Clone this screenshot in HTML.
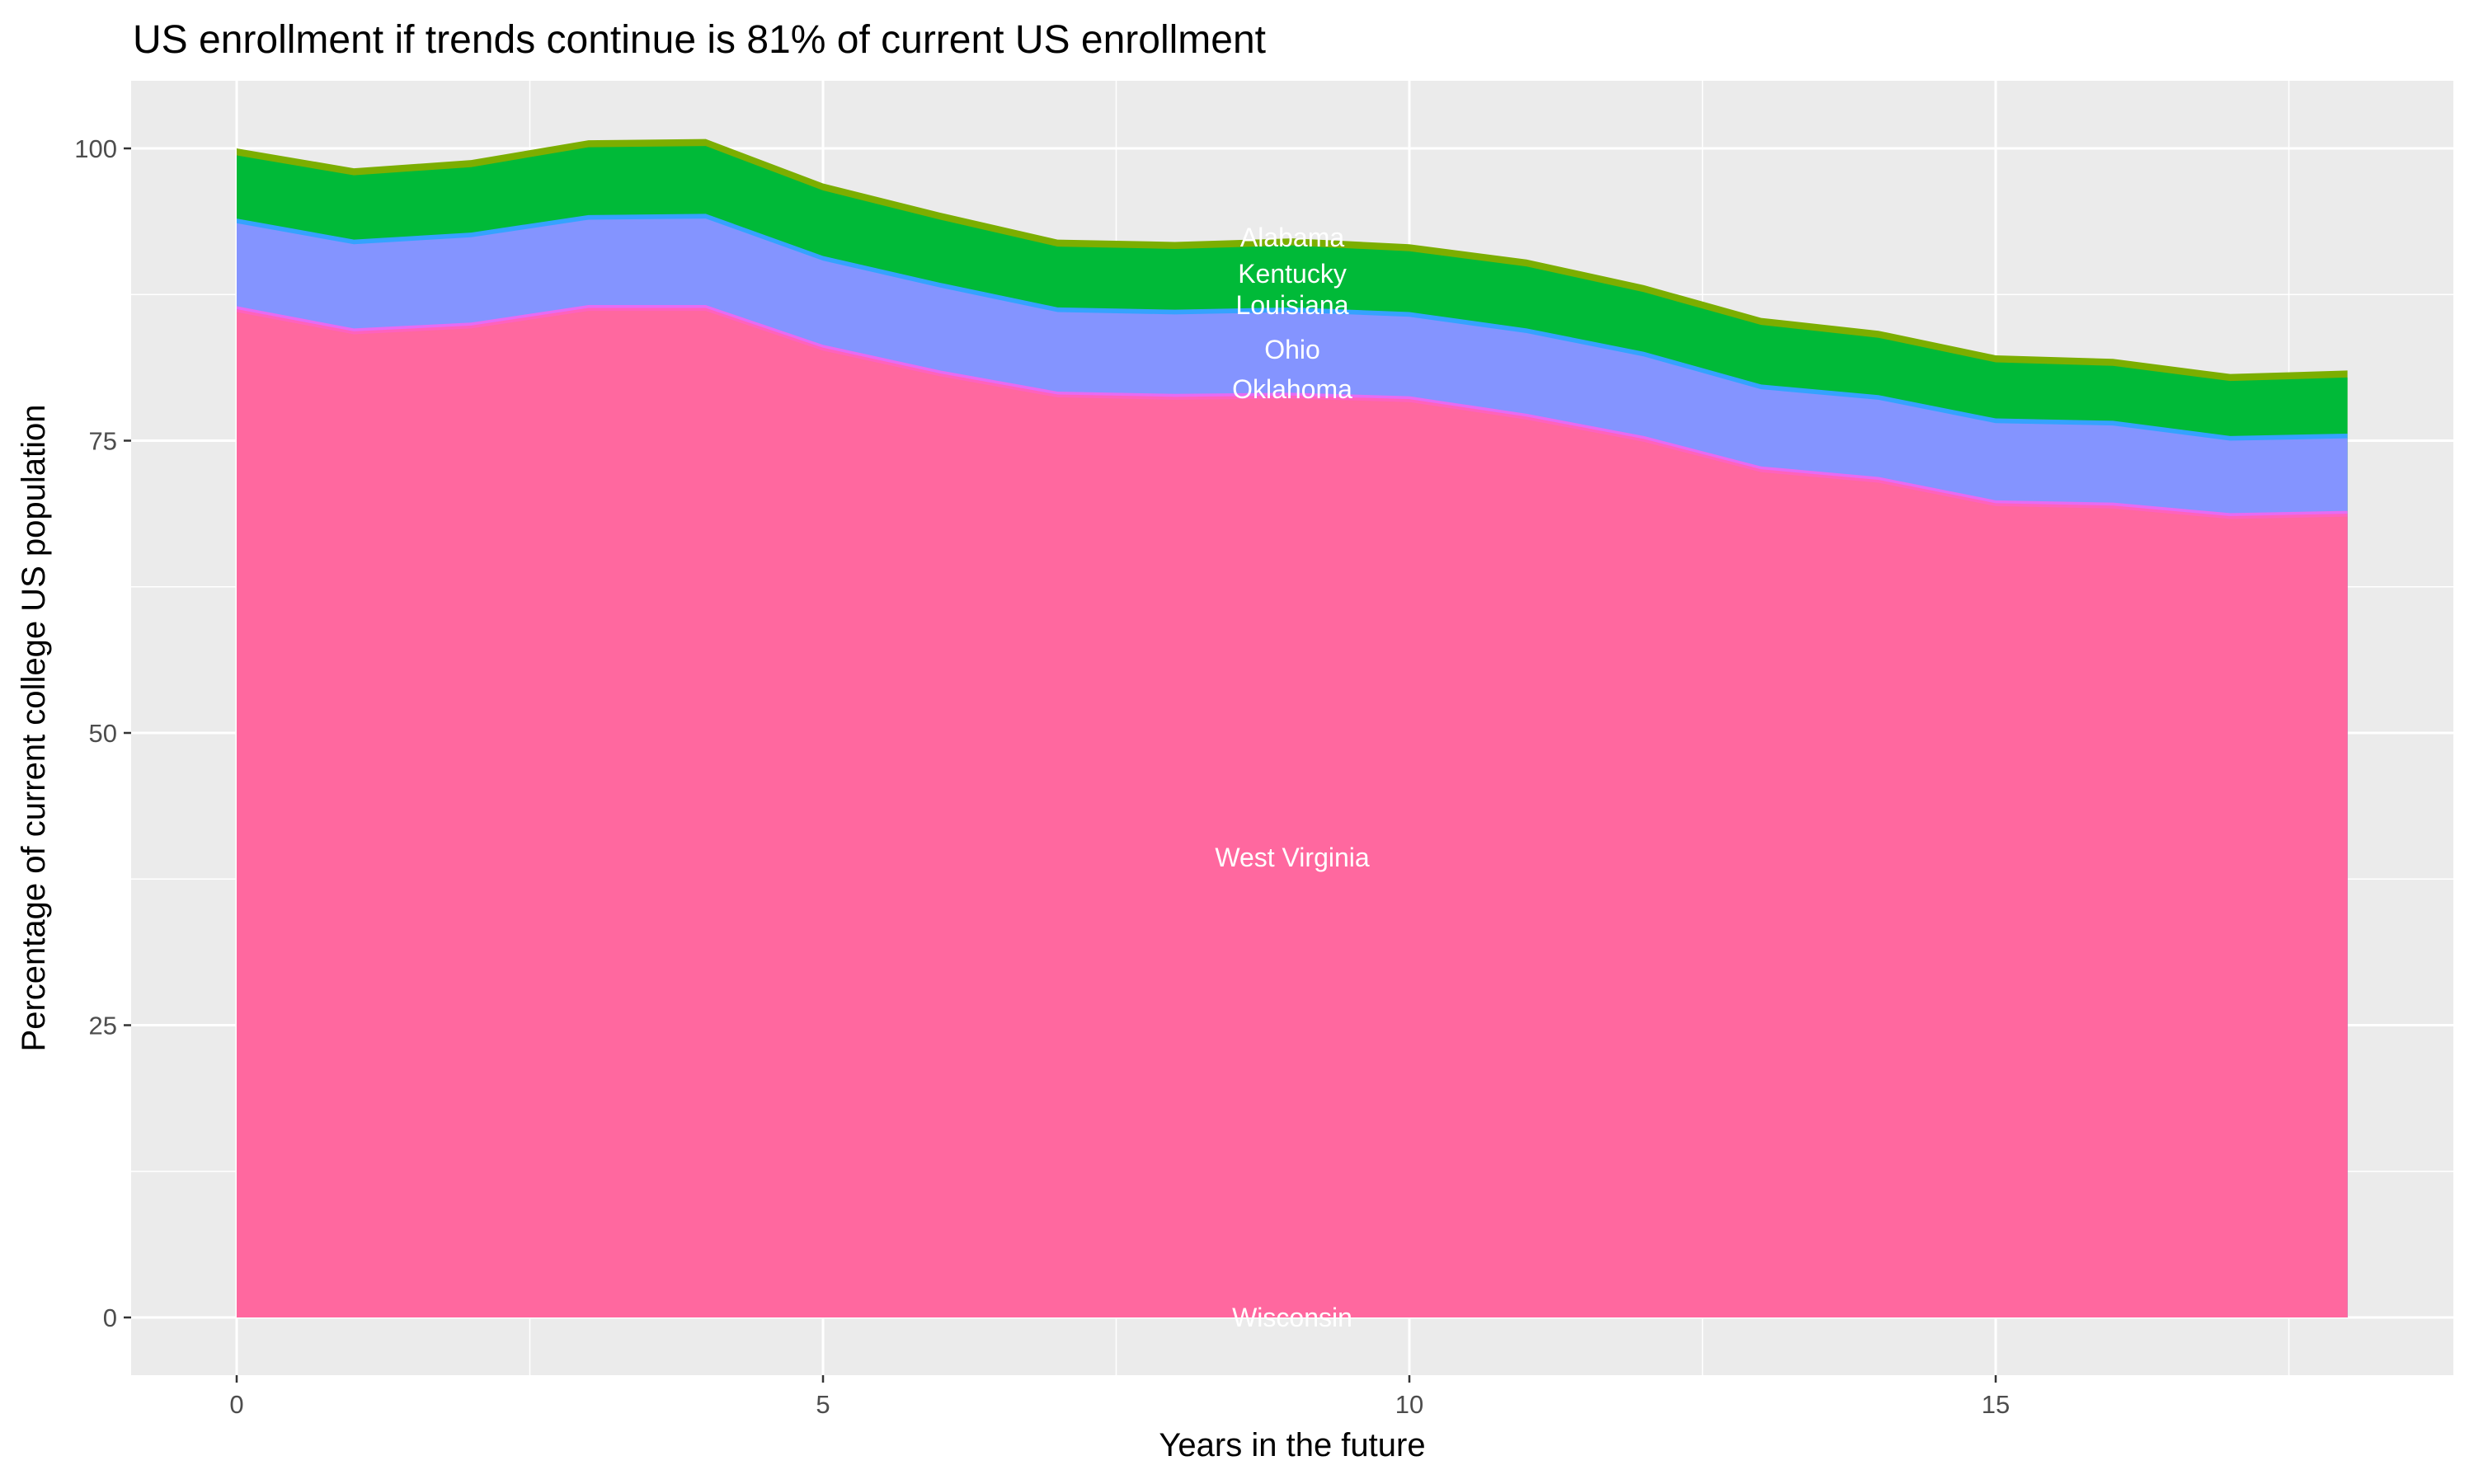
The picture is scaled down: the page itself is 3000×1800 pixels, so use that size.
<!DOCTYPE html>
<html><head><meta charset="utf-8"><style>
body{margin:0;background:#fff}
svg{display:block}
text{font-family:"Liberation Sans",sans-serif}
</style></head><body>
<svg id="s" width="3000" height="1800" xmlns="http://www.w3.org/2000/svg">
<rect x="0" y="0" width="3000" height="1800" fill="#fff"/>
<rect x="159" y="98" width="2816" height="1570" fill="#EBEBEB"/>
<g id="grid"></g>
<g id="areas"></g>
<g id="labels" fill="#fff" font-size="32" text-anchor="middle">
<text x="1567" y="299">Alabama</text>
<text x="1567" y="343">Kentucky</text>
<text x="1567" y="381">Louisiana</text>
<text x="1567" y="435">Ohio</text>
<text x="1567" y="483">Oklahoma</text>
<text x="1567" y="1051">West Virginia</text>
<text x="1567" y="1609">Wisconsin</text>
</g>
<text x="161" y="64" font-size="48" fill="#000">US enrollment if trends continue is 81% of current US enrollment</text>
<g id="ticks" fill="#4D4D4D" font-size="31"></g>
<text x="1567" y="1766" font-size="40" text-anchor="middle" fill="#000">Years in the future</text>
<text transform="translate(54,883) rotate(-90)" font-size="40" text-anchor="middle" fill="#000">Percentage of current college US population</text>
</svg>
<script>
const NS="http://www.w3.org/2000/svg";
const X=t=>287+142.2*t, Y=v=>1598-14.18*v;
function el(p,tag,a){const e=document.createElementNS(NS,tag);for(const k in a)e.setAttribute(k,a[k]);document.getElementById(p).appendChild(e);return e;}
[2.5,7.5,12.5,17.5].forEach(t=>el('grid','line',{x1:X(t),x2:X(t),y1:98,y2:1668,stroke:'#fff','stroke-width':1.5}));
[12.5,37.5,62.5,87.5].forEach(v=>el('grid','line',{x1:159,x2:2975,y1:Y(v),y2:Y(v),stroke:'#fff','stroke-width':1.5}));
[0,5,10,15].forEach(t=>el('grid','line',{x1:X(t),x2:X(t),y1:98,y2:1668,stroke:'#fff','stroke-width':3}));
[0,25,50,75,100].forEach(v=>el('grid','line',{x1:159,x2:2975,y1:Y(v),y2:Y(v),stroke:'#fff','stroke-width':3}));
const tot=[100,98.3,99,100.7,100.8,97,94.5,92.2,92,92.3,91.8,90.5,88.3,85.5,84.4,82.3,82,80.7,81];
const blu=[94,92.2,92.8,94.3,94.4,90.8,88.5,86.4,86.2,86.4,86,84.6,82.6,79.8,78.9,76.9,76.7,75.4,75.6];
const pnk=[86.5,84.6,85.1,86.6,86.6,83.2,81,79.2,79,79.1,78.8,77.3,75.4,72.8,71.9,69.9,69.7,68.8,69];
function area(top,fill){let p=[];top.forEach((v,i)=>p.push(X(i)+','+Y(v)));p.push(X(18)+','+Y(0));p.push(X(0)+','+Y(0));el('areas','polygon',{points:p.join(' '),fill:fill});}
area(tot,'#7CAE00');
area(tot.map(v=>v-0.6),'#00BA38');
area(blu,'#35A2FF');
area(blu.map(v=>v-0.4),'#8494FF');
area(pnk,'#E76BF3');
area(pnk.map(v=>v-0.25),'#FF62BC');
area(pnk.map(v=>v-0.5),'#FF689F');
[0,25,50,75,100].forEach(v=>{el('ticks','line',{x1:150,x2:159,y1:Y(v),y2:Y(v),stroke:'#333','stroke-width':2.5});const t=el('ticks','text',{x:142,y:Y(v)+11,'text-anchor':'end'});t.textContent=v;});
[0,5,10,15].forEach(v=>{el('ticks','line',{x1:X(v),x2:X(v),y1:1668,y2:1677,stroke:'#333','stroke-width':2.5});const t=el('ticks','text',{x:X(v),y:1714,'text-anchor':'middle'});t.textContent=v;});
</script>
</body></html>
